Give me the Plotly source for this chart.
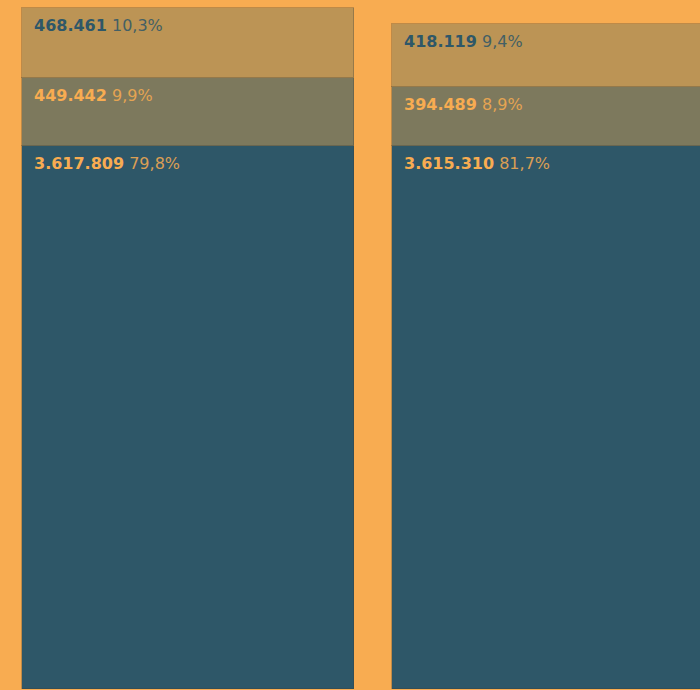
import plotly.graph_objects as go

categories = ["A", "B"]
bottom_vals = [3617809, 3615310]
middle_vals = [449442, 394489]
top_vals = [468461, 418119]
bottom_pct = ["79,8%", "81,7%"]
middle_pct = ["9,9%", "8,9%"]
top_pct = ["10,3%", "9,4%"]

bg = "rgb(248,172,81)"
seg_colors = ["rgb(46,87,104)", "rgb(125,121,93)", "rgb(188,148,85)"]
text_colors = ["rgb(248,172,81)", "rgb(248,172,81)", "rgb(46,87,104)"]
series = [bottom_vals, middle_vals, top_vals]
pcts = [bottom_pct, middle_pct, top_pct]

xs = list(range(len(categories)))
width = 0.8973

fig = go.Figure()
for vals, col in zip(series, seg_colors):
    fig.add_trace(go.Bar(
        x=xs, y=vals, width=width,
        marker=dict(color=col, line=dict(color="rgba(60,60,50,0.3)", width=1)),
        hoverinfo="skip", showlegend=False))

def fmt(n):
    return f"{n:,}".replace(",", ".")

annotations = []
for i, x in enumerate(xs):
    cum = 0
    for s, p, tc in zip(series, pcts, text_colors):
        cum += s[i]
        annotations.append(dict(
            x=x - width / 2, y=cum, xref="x", yref="y",
            xanchor="left", yanchor="top", xshift=10, yshift=-6,
            text=f"<b>{fmt(s[i])}</b> <span style='opacity:0.85'>{p[i]}</span>",
            showarrow=False,
            font=dict(family="DejaVu Sans", size=16, color=tc)))

fig.update_layout(
    barmode="stack", width=700, height=690,
    margin=dict(l=0, r=0, t=0, b=0),
    paper_bgcolor=bg, plot_bgcolor=bg,
    xaxis=dict(range=[-0.5081, 1.3838], visible=False, fixedrange=True),
    yaxis=dict(range=[-10000, 4590000], visible=False, fixedrange=True),
    annotations=annotations, bargap=0,
)
fig.write_html("out.html", config={"displayModeBar": False},
               post_script="document.body.style.margin='0';document.body.style.background='" + bg + "';")
